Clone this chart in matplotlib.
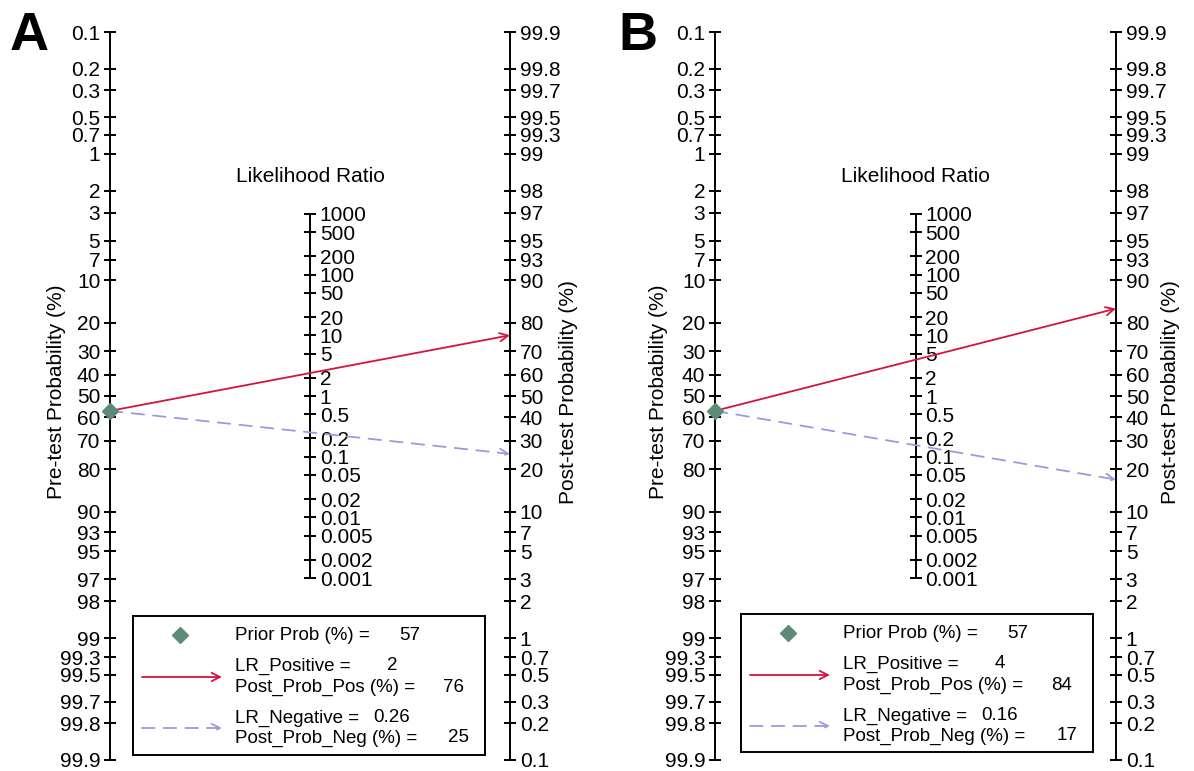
import numpy as np
import matplotlib
matplotlib.use('Agg')
import matplotlib.pyplot as plt
from matplotlib.ticker import NullLocator

plt.rcParams['font.family'] = ['Liberation Sans', 'DejaVu Sans']

# ---------------- data ----------------
panels = ['A', 'B']
prior_prob = [57, 57]
lr_positive = [2, 4]
post_prob_pos = [76, 84]
lr_negative = [0.26, 0.16]
post_prob_neg = [25, 17]
prob_ticks = [0.1, 0.2, 0.3, 0.5, 0.7, 1, 2, 3, 5, 7, 10, 20, 30, 40, 50,
              60, 70, 80, 90, 93, 95, 97, 98, 99, 99.3, 99.5, 99.7, 99.8, 99.9]
lr_ticks = [1000, 500, 200, 100, 50, 20, 10, 5, 2, 1, 0.5, 0.2, 0.1, 0.05,
            0.02, 0.01, 0.005, 0.002, 0.001]

# ---------------- styling ----------------
W, H = 1194, 771
RED = '#D2143F'
BLUE = '#9A9AE0'
GREEN = '#5F8A78'
TICK_FS = 15
LAB_FS = 15
LEG_FS = 13.5
AX_LW = 1.4


def fmt(v):
    return '{:g}'.format(v)


# nomogram scales: main y coordinate z is the logit of post-test probability
def pre_fwd(z):
    with np.errstate(all='ignore'):
        return 100.0 / (1.0 + np.exp(z))


def pre_inv(p):
    with np.errstate(all='ignore'):
        p = np.asarray(p, float)
        return np.log((100.0 - p) / p)


def post_fwd(z):
    with np.errstate(all='ignore'):
        return 100.0 / (1.0 + np.exp(-z))


def post_inv(p):
    with np.errstate(all='ignore'):
        p = np.asarray(p, float)
        return np.log(p / (100.0 - p))


def lr_fwd(z):
    with np.errstate(all='ignore'):
        return np.exp(2.0 * np.asarray(z, float))


def lr_inv(r):
    with np.errstate(all='ignore'):
        return np.log(np.asarray(r, float)) / 2.0


fig = plt.figure(figsize=(W / 100, H / 100), dpi=100)

# pixel layout of each panel
layout = [
    dict(left=110, right=510, legend=(133, 616, 352, 139), letter=10,
         pre_lab=57, post_lab=569),
    dict(left=715, right=1116, legend=(741, 614, 352, 138), letter=618,
         pre_lab=659, post_lab=1170),
]
top_px, bot_px = 32, 760
lab_y = 392

zmax = float(post_inv(max(prob_ticks)))
ARROW = '->,head_length=0.6,head_width=0.3'


def style_sec(sec, side):
    sec.tick_params(axis='y', direction='inout', length=8, width=AX_LW,
                    labelsize=TICK_FS, pad=3)
    sec.yaxis.set_minor_locator(NullLocator())
    sec.spines[side].set_linewidth(AX_LW)


for i, name in enumerate(panels):
    L = layout[i]
    ax = fig.add_axes([L['left'] / W, 1 - bot_px / H,
                       (L['right'] - L['left']) / W, (bot_px - top_px) / H])
    ax.set_xlim(0, 2)
    ax.set_ylim(-zmax, zmax)
    for s in ax.spines.values():
        s.set_visible(False)
    ax.set_xticks([])
    ax.set_yticks([])
    ax.patch.set_visible(False)

    # pre-test axis (left)
    sec_l = ax.secondary_yaxis(0.0, functions=(pre_fwd, pre_inv))
    sec_l.set_yticks(prob_ticks, labels=[fmt(v) for v in prob_ticks])
    style_sec(sec_l, 'left')

    # likelihood ratio axis (middle)
    sec_m = ax.secondary_yaxis(0.5, functions=(lr_fwd, lr_inv))
    sec_m.set_yticks(lr_ticks, labels=[fmt(v) for v in lr_ticks])
    style_sec(sec_m, 'right')
    sec_m.spines['right'].set_bounds(min(lr_ticks), max(lr_ticks))

    # post-test axis (right)
    sec_r = ax.secondary_yaxis(1.0, functions=(post_fwd, post_inv))
    sec_r.set_yticks(prob_ticks, labels=[fmt(v) for v in prob_ticks])
    style_sec(sec_r, 'right')

    fig.text(L['pre_lab'] / W, 1 - lab_y / H, 'Pre-test Probability (%)',
             rotation=90, ha='center', va='center', fontsize=LAB_FS)
    fig.text(L['post_lab'] / W, 1 - lab_y / H, 'Post-test Probability (%)',
             rotation=90, ha='center', va='center', fontsize=LAB_FS)

    ax.annotate('Likelihood Ratio', xy=(1, float(lr_inv(max(lr_ticks)))),
                xytext=(0, 27), textcoords='offset points',
                ha='center', va='center', fontsize=LAB_FS)

    # lines
    z_pre = float(pre_inv(prior_prob[i]))
    ax.annotate('', xy=(2, float(post_inv(post_prob_pos[i]))), xytext=(0, z_pre),
                arrowprops=dict(arrowstyle=ARROW, color=RED, lw=1.3,
                                shrinkA=0, shrinkB=0),
                annotation_clip=False)
    ax.annotate('', xy=(2, float(post_inv(post_prob_neg[i]))), xytext=(0, z_pre),
                arrowprops=dict(arrowstyle=ARROW, color=BLUE, lw=1.3,
                                linestyle=(0, (7, 5)), shrinkA=0, shrinkB=0),
                annotation_clip=False)
    ax.plot([0], [z_pre], marker='D', color=GREEN, ms=8, clip_on=False, zorder=5)

    # panel letter
    fig.text(L['letter'] / W, 1 - 50 / H, name, fontsize=39, fontweight='bold',
             ha='left', va='baseline')

    # legend box
    lx, ly, lw_, lh = L['legend']
    lax = fig.add_axes([lx / W, 1 - (ly + lh) / H, lw_ / W, lh / H])
    lax.set_xlim(0, lw_)
    lax.set_ylim(lh, 0)
    lax.set_xticks([])
    lax.set_yticks([])
    for s in lax.spines.values():
        s.set_linewidth(AX_LW)

    lax.plot([47], [19], marker='D', color=GREEN, ms=8)
    lax.text(102, 19, 'Prior Prob (%) =', va='center', fontsize=LEG_FS)
    lax.text(287, 19, fmt(prior_prob[i]), ha='right', va='center', fontsize=LEG_FS)

    lax.annotate('', xy=(89, 61), xytext=(9, 61),
                 arrowprops=dict(arrowstyle=ARROW, color=RED, lw=1.3,
                                 shrinkA=0, shrinkB=0))
    lax.text(102, 50, 'LR_Positive =', va='center', fontsize=LEG_FS)
    lax.text(264, 50, fmt(lr_positive[i]), ha='right', va='center', fontsize=LEG_FS)
    lax.text(102, 71, 'Post_Prob_Pos (%) =', va='center', fontsize=LEG_FS)
    lax.text(331, 71, fmt(post_prob_pos[i]), ha='right', va='center', fontsize=LEG_FS)

    lax.annotate('', xy=(89, 112), xytext=(9, 112),
                 arrowprops=dict(arrowstyle=ARROW, color=BLUE, lw=1.3,
                                 linestyle=(0, (7, 5)), shrinkA=0, shrinkB=0))
    lax.text(102, 102, 'LR_Negative =', va='center', fontsize=LEG_FS)
    lax.text(277, 102, fmt(lr_negative[i]), ha='right', va='center', fontsize=LEG_FS)
    lax.text(102, 122, 'Post_Prob_Neg (%) =', va='center', fontsize=LEG_FS)
    lax.text(336, 122, fmt(post_prob_neg[i]), ha='right', va='center', fontsize=LEG_FS)

fig.savefig('out.png', dpi=100)
